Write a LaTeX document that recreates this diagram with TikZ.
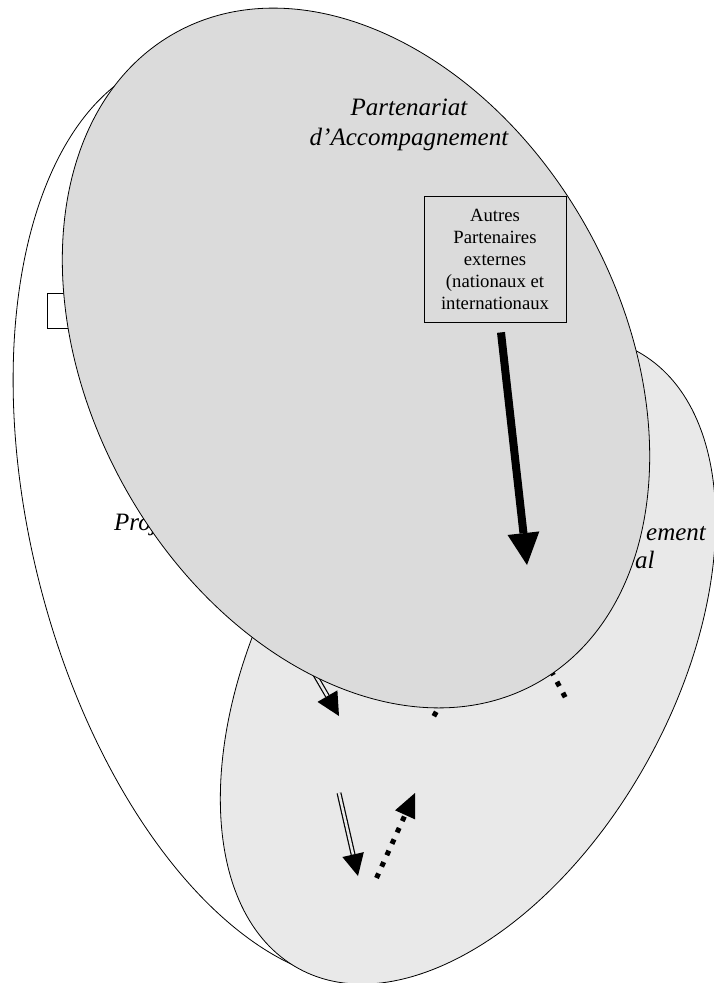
\documentclass[tikz,border=0pt]{standalone}
\usepackage{fontspec}
\setmainfont{Liberation Serif}
\usetikzlibrary{arrows.meta,calc}

\definecolor{accfill}{gray}{0.86}
\definecolor{terrfill}{gray}{0.915}

\tikzset{
  zone/.style={draw, line width=0.8pt},
  bigtext/.style={font=\fontsize{25}{30}\selectfont\itshape, inner sep=0pt},
  dots/.style={line width=5pt, dash pattern=on 5pt off 7.5pt},
  dbl/.style={double=terrfill, double distance=2.5pt, line width=1.2pt},
}

\begin{document}
\begin{tikzpicture}[x=1pt, y=-1pt]
\useasboundingbox (0,0) rectangle (714,983);
\clip (0,0) rectangle (714,983);

\draw[zone, fill=white, rotate around={104:(285,518)}] (285,518) ellipse [x radius=474, y radius=254];
\draw[zone, fill=terrfill, rotate around={61.2:(468,660)}] (468,660) ellipse [x radius=352, y radius=206];
\draw[line width=0.8pt, fill=white] (47,293) rectangle (150,328);

\node[bigtext, anchor=base west] (projtext) at (114,530) {Proj};
\node[bigtext, anchor=base west] (ementtext) at (646,540) {ement};
\node[bigtext, anchor=base west] (altext) at (635,568) {al};

\coordinate (dotsA) at (433.8,716.2);
\coordinate (dotsB) at (565.2,697.2);
\draw[dots] (dotsA) -- (460,670);
\draw[dots] (dotsB) -- (540,650);

\coordinate (dblstartA) at (296,642);
\coordinate (dbltipA) at (339,716);
\draw[dbl, -{Triangle[length=23pt,width=23pt,line width=0pt]}] (dblstartA) -- (dbltipA);

\draw[zone, fill=accfill, rotate around={119:(356,358)}] (356,358) ellipse [x radius=372, y radius=265];

\node[bigtext, align=center] (acctext) at (409,125) {Partenariat\\d'Accompagnement};
\node[draw, fill=accfill, line width=0.8pt, minimum width=142pt, minimum height=126pt, inner sep=0pt,
      align=center, font=\fontsize{18.7}{22}\selectfont] (autres) at (495,259)
      {Autres\\Partenaires\\externes\\(nationaux et\\internationaux};

\coordinate (bigtip) at (527,565);
\draw[line width=8pt, -{Triangle[length=32pt,width=32pt,line width=0pt]}] ($(autres.south)+(6,10)$) -- (bigtip);

\coordinate (dblstartB) at (339,793);
\coordinate (dbltipB) at (358,876);
\draw[dbl, -{Triangle[length=22pt,width=22pt,line width=0pt]}] (dblstartB) -- (dbltipB);

\coordinate (dotstart) at (376.5,878);
\coordinate (dottip) at (415,793);
\draw[dots, -{Triangle[length=24pt,width=22pt,line width=0pt]}] (dotstart) -- (dottip);
\end{tikzpicture}
\end{document}
